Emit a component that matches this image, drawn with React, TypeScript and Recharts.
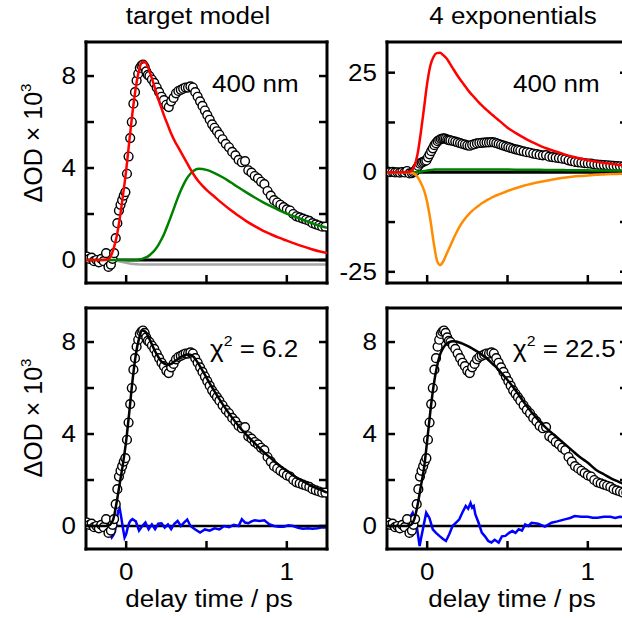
import { ComposedChart, Line, XAxis, YAxis, ReferenceLine } from "recharts";

const FONT = "'Liberation Sans', Arial, Helvetica, sans-serif";
const FS = 23;
const SX = 1.13; // text in the figure is a bit wider than plain Arial

// measured transient, 400 nm (ΔOD × 10^3)
const delayTime = [
  -0.245, -0.23, -0.215, -0.2, -0.185, -0.17, -0.155, -0.14, -0.125, -0.11,
  -0.095, -0.085, -0.075, -0.065, -0.055, -0.045, -0.035, -0.025, -0.015, -0.005,
  0.005, 0.015, 0.025, 0.035, 0.045, 0.055, 0.065, 0.075, 0.085, 0.095,
  0.105, 0.115, 0.125, 0.135, 0.145, 0.16, 0.175, 0.19, 0.205, 0.22,
  0.235, 0.25, 0.265, 0.28, 0.295, 0.31, 0.325, 0.34, 0.355, 0.37,
  0.385, 0.4, 0.415, 0.43, 0.445, 0.46, 0.475, 0.49, 0.505, 0.52,
  0.535, 0.55, 0.565, 0.58, 0.6, 0.62, 0.64, 0.66, 0.68, 0.7,
  0.72, 0.74, 0.76, 0.78, 0.8, 0.82, 0.84, 0.86, 0.88, 0.9,
  0.92, 0.94, 0.96, 0.98, 1.0, 1.02, 1.04, 1.06, 1.08, 1.1,
  1.12, 1.14, 1.16, 1.18, 1.2, 1.22, 1.24,
];
const deltaOD = [
  0.15, 0.05, 0.1, -0.05, 0.0, -0.1, 0.05, -0.05, 0.3, -0.3,
  -0.2, 0.05, 0.3, 0.95, 1.6, 2.15, 2.4, 2.6, 2.8, 2.95,
  3.75, 4.5, 5.3, 6.0, 6.8, 7.3, 7.8, 8.1, 8.35, 8.45,
  8.5, 8.4, 8.2, 8.05, 8.0, 7.85, 7.7, 7.5, 7.3, 7.1,
  6.95, 6.75, 6.65, 6.9, 7.05, 7.25, 7.35, 7.4, 7.45, 7.5,
  7.5, 7.55, 7.5, 7.3, 7.1, 6.9, 6.7, 6.5, 6.3, 6.1,
  5.9, 5.75, 5.6, 5.45, 5.25, 5.05, 4.9, 4.7, 4.55, 4.35,
  4.25, 4.3, 3.9, 3.8, 3.65, 3.55, 3.4, 3.3, 3.0, 2.8,
  2.6, 2.5, 2.4, 2.3, 2.2, 2.15, 2.0, 1.9, 1.85, 1.8,
  1.75, 1.7, 1.6, 1.55, 1.5, 1.45, 1.45,
];

// model curves
const curveTime = [
  -0.25, -0.2, -0.15, -0.12, -0.1, -0.08, -0.06, -0.04, -0.02, 0,
  0.02, 0.04, 0.06, 0.08, 0.1, 0.12, 0.14, 0.16, 0.18, 0.2,
  0.22, 0.24, 0.26, 0.28, 0.3, 0.32, 0.34, 0.36, 0.38, 0.4,
  0.42, 0.45, 0.5, 0.55, 0.6, 0.65, 0.7, 0.75, 0.8, 0.85,
  0.9, 0.95, 1.0, 1.05, 1.1, 1.15, 1.2, 1.25,
];
const targetRed = [
  0, 0, 0, 0.02, 0.12, 0.45, 1.0, 1.8, 2.8, 3.9,
  5.2, 6.45, 7.5, 8.25, 8.62, 8.6, 8.3, 7.9, 7.45, 7.0,
  6.6, 6.2, 5.85, 5.5, 5.2, 4.95, 4.7, 4.45, 4.2, 3.95,
  3.72, 3.42, 3.05, 2.75, 2.45, 2.17, 1.92, 1.68, 1.47, 1.28,
  1.12, 0.97, 0.84, 0.71, 0.59, 0.48, 0.38, 0.3,
];
const targetGreen = [
  0, 0, 0, 0, 0, 0, 0, 0, 0, 0,
  0, 0, 0, 0.02, 0.05, 0.1, 0.18, 0.3, 0.45, 0.65,
  0.9, 1.2, 1.55, 1.92, 2.3, 2.68, 3.02, 3.32, 3.57, 3.75,
  3.88, 3.97, 3.92, 3.78, 3.6, 3.38, 3.15, 2.93, 2.72, 2.52,
  2.34, 2.17, 2.02, 1.88, 1.75, 1.62, 1.5, 1.4,
];
const targetGray = [
  0, 0, 0, 0, 0, -0.01, -0.03, -0.06, -0.09, -0.12,
  -0.15, -0.17, -0.18, -0.19, -0.2, -0.2, -0.2, -0.2, -0.2, -0.2,
  -0.2, -0.2, -0.2, -0.2, -0.2, -0.2, -0.2, -0.2, -0.2, -0.2,
  -0.2, -0.2, -0.2, -0.2, -0.2, -0.2, -0.2, -0.2, -0.2, -0.2,
  -0.2, -0.2, -0.2, -0.2, -0.2, -0.2, -0.2, -0.2,
];
const expRed = [
  0, 0, 0, 0.05, 0.3, 1.5, 4.5, 9.8, 16, 22.3,
  26.8, 29.0, 29.9, 30.0, 29.4, 28.6, 27.4, 26.1, 24.8, 23.6,
  22.5, 21.4, 20.3, 19.4, 18.5, 17.6, 16.8, 16.0, 15.3, 14.6,
  13.9, 12.9, 11.2, 9.9, 8.7, 7.6, 6.7, 5.9, 5.2, 4.55,
  3.95, 3.45, 3.0, 2.65, 2.35, 2.1, 1.85, 1.65,
];
const expOrange = [
  0, 0, 0, 0, -0.1, -0.4, -1.2, -2.6, -4.5, -7.5,
  -12, -17.5, -22, -23.3, -22.4, -20.6, -18.8, -17.0, -15.3, -13.8,
  -12.5, -11.4, -10.5, -9.7, -9.0, -8.4, -7.8, -7.3, -6.8, -6.4,
  -6.0, -5.5, -4.7, -4.0, -3.4, -2.9, -2.45, -2.05, -1.7, -1.4,
  -1.15, -0.95, -0.8, -0.65, -0.55, -0.45, -0.38, -0.3,
];
const expGreen = [
  0, 0, 0, 0, 0, 0, 0.05, 0.15, 0.3, 0.45,
  0.58, 0.65, 0.7, 0.7, 0.7, 0.7, 0.7, 0.7, 0.7, 0.7,
  0.7, 0.7, 0.7, 0.7, 0.7, 0.7, 0.7, 0.7, 0.7, 0.7,
  0.7, 0.7, 0.68, 0.66, 0.64, 0.62, 0.6, 0.58, 0.56, 0.54,
  0.52, 0.5, 0.48, 0.46, 0.45, 0.44, 0.43, 0.42,
];
const targetFit = [
  0.02, 0, 0, 0, 0.05, 0.3, 1.0, 1.85, 2.7, 3.7,
  5.0, 6.35, 7.45, 8.15, 8.5, 8.45, 8.2, 7.9, 7.6, 7.35,
  7.15, 7.05, 7.0, 7.05, 7.15, 7.25, 7.35, 7.42, 7.46, 7.45,
  7.35, 7.05, 6.45, 5.85, 5.3, 4.8, 4.35, 3.95, 3.6, 3.25,
  2.95, 2.65, 2.4, 2.15, 1.95, 1.75, 1.6, 1.45,
];
const expFit = [
  0, 0, 0, 0, 0.05, 0.3, 0.9, 1.7, 2.5, 3.7,
  5.0, 6.1, 6.9, 7.45, 7.75, 7.92, 8.0, 8.03, 8.02, 7.98,
  7.93, 7.87, 7.8, 7.72, 7.64, 7.55, 7.45, 7.35, 7.23, 7.1,
  6.97, 6.75, 6.35, 5.9, 5.4, 4.95, 4.55, 4.2, 3.9, 3.6,
  3.3, 3.0, 2.75, 2.45, 2.25, 2.05, 1.9, 1.75,
];

// residuals
const residTimeA = [
  -0.11, -0.1, -0.09, -0.08, -0.07, -0.06, -0.05, -0.04, -0.03, -0.02,
  -0.01, 0, 0.01, 0.02, 0.03, 0.04, 0.05, 0.06, 0.07, 0.08,
  0.1, 0.12, 0.14, 0.16, 0.18, 0.2, 0.22, 0.24, 0.26, 0.28,
  0.3, 0.32, 0.34, 0.36, 0.38, 0.4, 0.43, 0.46, 0.49, 0.52,
  0.55, 0.58, 0.61, 0.64, 0.67, 0.7, 0.72, 0.74, 0.76, 0.78,
  0.8, 0.83, 0.86, 0.89, 0.92, 0.95, 0.98, 1.01, 1.04, 1.07,
  1.1, 1.13, 1.16, 1.19, 1.22, 1.25,
];
const residA = [
  -0.25, -0.35, -0.5, -0.4, -0.25, 0.2, 0.65, 0.75, 0.35, -0.1,
  -0.5, -0.35, -0.05, 0.15, 0.25, 0.3, 0.25, 0.2, 0.0, -0.2,
  0.0, 0.15, -0.14, 0.07, -0.14, 0.1, 0.12, -0.07, 0.07, -0.14,
  0.1, 0.22, 0.0, 0.15, 0.28, 0.0, -0.15, -0.28, -0.15, -0.2,
  -0.1, -0.15, 0.0, -0.05, 0.05, 0.0, 0.3, 0.15, 0.12, 0.2,
  0.25, 0.22, 0.25, 0.08, 0.0, -0.03, -0.03, 0.03, 0.0, -0.08,
  -0.12, -0.1, -0.12, -0.1, -0.06, -0.06,
];
const residTimeB = [
  -0.2, -0.17, -0.13, -0.11, -0.09, -0.068, -0.047, -0.037, -0.027, -0.006,
  0.014, 0.035, 0.055, 0.076, 0.097, 0.117, 0.138, 0.158, 0.18, 0.2,
  0.22, 0.24, 0.255, 0.27, 0.28, 0.29, 0.3, 0.32, 0.34, 0.36,
  0.38, 0.4, 0.42, 0.445, 0.465, 0.487, 0.51, 0.53, 0.55, 0.57,
  0.59, 0.61, 0.63, 0.65, 0.69, 0.733, 0.774, 0.81, 0.856, 0.89,
  0.918, 0.96, 1.0, 1.03, 1.06, 1.1, 1.14, 1.17, 1.2, 1.25,
];
const residB = [
  0.0, 0.07, 0.25, 0.35, 0.58, 0.14, -0.87, -0.5, -0.15, 0.58,
  0.35, -0.15, -0.3, -0.43, -0.55, -0.65, -0.35, 0.0, 0.15, 0.29,
  0.6, 0.87, 0.75, 1.0, 0.8, 0.87, 0.5, 0.14, -0.29, -0.45,
  -0.65, -0.72, -0.6, -0.72, -0.45, -0.43, -0.3, -0.22, -0.3, -0.14,
  -0.2, 0.07, 0.0, 0.14, 0.1, -0.03, 0.14, 0.2, 0.29, 0.35,
  0.43, 0.4, 0.4, 0.36, 0.36, 0.4, 0.4, 0.35, 0.4, 0.38,
];

const X_DOMAIN = [-0.25, 1.25];
const X_TICKS = [0, 0.5, 1];
const OD_DOMAIN = [-1, 9.48];
const OD_TICKS = [0, 2, 4, 6, 8];
const OD_LABELS = [0, 4, 8];
const EXP_DOMAIN = [-27.8, 32.7];
const EXP_TICKS = [-25, -12.5, 0, 12.5, 25];
const EXP_LABELS = [-25, 0, 25];

const zip = (ts: number[], vs: number[]) => ts.map((t, i) => ({ t, v: vs[i] }));

const measured = zip(delayTime, deltaOD);
const redA = zip(curveTime, targetRed);
const greenA = zip(curveTime, targetGreen);
const grayA = zip(curveTime, targetGray);
const redB = zip(curveTime, expRed);
const orangeB = zip(curveTime, expOrange);
const greenB = zip(curveTime, expGreen);
const fitA = zip(curveTime, targetFit);
const fitB = zip(curveTime, expFit);
const resA = zip(residTimeA, residA);
const resB = zip(residTimeB, residB);

const frame = { stroke: "#000", strokeWidth: 3, strokeLinecap: "square" as const };

function Txt({ x, y, anchor = "start", size = FS, children }: any) {
  return (
    <text
      transform={`translate(${x} ${y}) scale(${SX} 1)`}
      textAnchor={anchor}
      fontSize={size}
      fontFamily={FONT}
      fill="#000"
    >
      {children}
    </text>
  );
}

const TICK = 8;
function tickRenderer(side: string, labels: number[]) {
  return (p: any) => {
    const { x, y } = p;
    const v = p.payload.value;
    const show = labels.includes(v);
    let x2 = x;
    let y2 = y;
    if (side === "left") x2 = x + TICK;
    if (side === "right") x2 = x - TICK;
    if (side === "top") y2 = y + TICK;
    if (side === "bottom") y2 = y - TICK;
    return (
      <g>
        <line x1={x} y1={y} x2={x2} y2={y2} stroke="#000" strokeWidth={2.5} />
        {show && side === "left" && (
          <Txt x={x - 10} y={y + 8} anchor="end">{v}</Txt>
        )}
        {show && side === "bottom" && (
          <Txt x={x} y={y + 31} anchor="middle">{v}</Txt>
        )}
      </g>
    );
  };
}

// open circles for the measured points, drawn as the dots of an unstroked line
const ring = (p: any) => (
  <circle key={`c${p.index}`} cx={p.cx} cy={p.cy} r={4.4} fill="#fff" stroke="#000" strokeWidth={1.4} />
);

const ids = { xAxisId: "b", yAxisId: "l" };

function curve(data: any[], color: string, type: "monotone" | "linear" = "monotone") {
  return (
    <Line {...ids} data={data} dataKey="v" type={type} stroke={color} strokeWidth={2.5}
      dot={false} activeDot={false} isAnimationActive={false} />
  );
}

// one panel = two stacked charts with identical geometry, so the model curves sit above the circles
function Layer({ yDomain, yTicks, yLabels, xLabels, bare, height, bottomH, children }: any) {
  const axisCommon = {
    type: "number" as const,
    allowDataOverflow: true,
    axisLine: bare ? false : frame,
    tickLine: false,
    tickSize: 0,
    tickMargin: 0,
    interval: 0 as const,
  };
  return (
    <ComposedChart width={311} height={height} margin={{ top: 0, right: 0, bottom: 0, left: 0 }}>
      <XAxis xAxisId="b" dataKey="t" domain={X_DOMAIN} ticks={X_TICKS} height={bottomH}
        tick={bare ? false : tickRenderer("bottom", xLabels)} {...axisCommon} />
      <XAxis xAxisId="t" orientation="top" domain={X_DOMAIN} ticks={X_TICKS} height={10}
        tick={bare ? false : tickRenderer("top", [])} {...axisCommon} />
      <YAxis yAxisId="l" dataKey="v" domain={yDomain} ticks={yTicks} width={60}
        tick={bare ? false : tickRenderer("left", yLabels)} {...axisCommon} />
      <YAxis yAxisId="r" orientation="right" domain={yDomain} ticks={yTicks} width={10}
        tick={bare ? false : tickRenderer("right", [])} {...axisCommon} />
      {children}
    </ComposedChart>
  );
}

function Panel({ left, top, under, over, ...axes }: any) {
  const bottomH = axes.xLabels.length ? 40 : 10;
  const height = 251 + bottomH;
  return (
    <div style={{ position: "absolute", left, top, width: 311, height }}>
      <div style={{ position: "absolute", left: 0, top: 0 }}>
        <Layer {...axes} height={height} bottomH={bottomH}>
          {under}
          <Line {...ids} data={measured} dataKey="v" stroke="none" dot={ring} activeDot={false} isAnimationActive={false} />
        </Layer>
      </div>
      <div style={{ position: "absolute", left: 0, top: 0 }}>
        <Layer {...axes} bare height={height} bottomH={bottomH}>
          {over}
        </Layer>
      </div>
    </div>
  );
}

export default function App() {
  return (
    <div style={{ position: "absolute", left: 0, top: 0, width: 622, height: 618, overflow: "hidden", background: "#fff" }}>
      {/* target model, components */}
      <Panel left={26} top={32} yDomain={OD_DOMAIN} yTicks={OD_TICKS} yLabels={OD_LABELS} xLabels={[]}
        under={[
          <ReferenceLine key="z" {...ids} y={0} stroke="#000" strokeWidth={3} />,
          <g key="g">{curve(grayA, "#a6a6a6")}</g>,
        ]}
        over={[
          <g key="gr">{curve(greenA, "#008000")}</g>,
          <g key="r">{curve(redA, "#ff0000")}</g>,
        ]}
      />

      {/* 4 exponentials, components */}
      <Panel left={327} top={32} yDomain={EXP_DOMAIN} yTicks={EXP_TICKS} yLabels={EXP_LABELS} xLabels={[]}
        under={[<ReferenceLine key="z" {...ids} y={0} stroke="#000" strokeWidth={3} />]}
        over={[
          <g key="gr">{curve(greenB, "#008000")}</g>,
          <g key="o">{curve(orangeB, "#ff8c00")}</g>,
          <g key="r">{curve(redB, "#ff0000")}</g>,
        ]}
      />

      {/* target model fit */}
      <Panel left={26} top={298} yDomain={OD_DOMAIN} yTicks={OD_TICKS} yLabels={OD_LABELS} xLabels={[0, 1]}
        under={[
          <ReferenceLine key="z" {...ids} y={0} stroke="#000" strokeWidth={2.5} />,
          <g key="res">{curve(resA, "#0000ff", "linear")}</g>,
        ]}
        over={[<g key="f">{curve(fitA, "#000")}</g>]}
      />

      {/* 4 exponentials fit */}
      <Panel left={327} top={298} yDomain={OD_DOMAIN} yTicks={OD_TICKS} yLabels={OD_LABELS} xLabels={[0, 1]}
        under={[
          <ReferenceLine key="z" {...ids} y={0} stroke="#000" strokeWidth={2.5} />,
          <g key="res">{curve(resB, "#0000ff", "linear")}</g>,
        ]}
        over={[<g key="f">{curve(fitB, "#000")}</g>]}
      />

      <svg width={622} height={618} style={{ position: "absolute", left: 0, top: 0, pointerEvents: "none" }}>
        <Txt x={198} y={24} anchor="middle">target model</Txt>
        <Txt x={513} y={24} anchor="middle">4 exponentials</Txt>
        <Txt x={212} y={92}>400 nm</Txt>
        <Txt x={513} y={92}>400 nm</Txt>
        <Txt x={210} y={357}>
          χ<tspan fontSize={14} dy={-11}>2</tspan><tspan dy={11}> = 6.2</tspan>
        </Txt>
        <Txt x={513} y={357}>
          χ<tspan fontSize={14} dy={-11}>2</tspan><tspan dy={11}> = 22.5</tspan>
        </Txt>
        <Txt x={209} y={607} anchor="middle">delay time / ps</Txt>
        <Txt x={512} y={607} anchor="middle">delay time / ps</Txt>
        {[143, 418].map((cy) => (
          <text key={cy} transform={`translate(42 ${cy}) rotate(-90)`} textAnchor="middle"
            fontSize={25} fontFamily={FONT} fill="#000">
            ΔOD × 10<tspan fontSize={15} dy={-11}>3</tspan>
          </text>
        ))}
      </svg>
    </div>
  );
}
